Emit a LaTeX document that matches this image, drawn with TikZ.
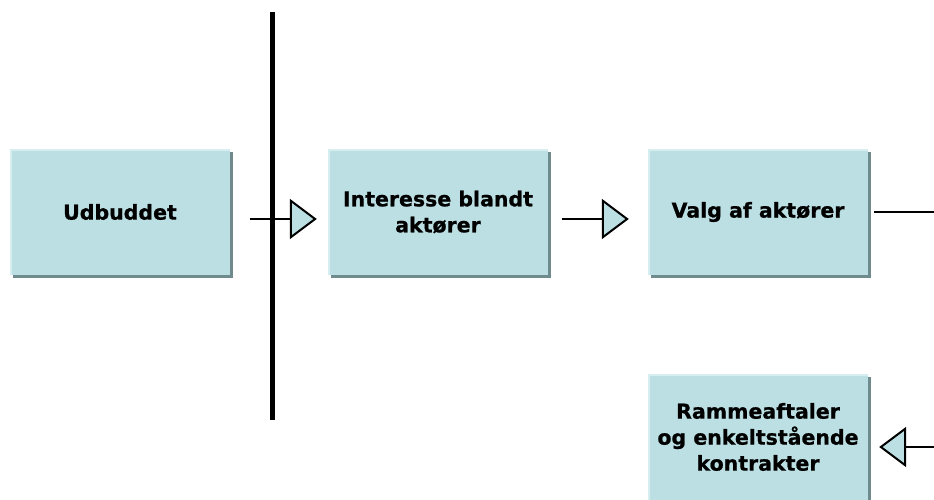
\documentclass[tikz,border=0pt]{standalone}
\usepackage{fontspec}
\setmainfont{DejaVu Sans}[BoldFeatures={FakeBold=0.8}]
\usepackage{xcolor}
\usetikzlibrary{arrows.meta,shadows}
\definecolor{boxfill}{HTML}{BBDFE3}
\definecolor{boxshade}{HTML}{6F8B8D}
\definecolor{boxlight}{HTML}{D6EEF0}
\tikzset{
  procbox/.style={fill=boxfill, minimum width=220pt, minimum height=126pt, inner sep=0pt, align=center, font=\bfseries\fontsize{20.5}{26}\selectfont, drop shadow={shadow xshift=3pt, shadow yshift=-3pt, fill=boxshade, opacity=1}},
  boxedge/.style={draw=boxlight, line width=2pt},
  procarrow/.style={-{Triangle[length=27pt,width=40pt,fill=boxfill,line width=2pt]}, line width=2pt, draw=black}
}

\begin{document}
\begin{tikzpicture}[x=1pt,y=-1pt]
\useasboundingbox (0,0) rectangle (934,500);
\node[procbox] (udbud) at (120,212) {Udbuddet};
\node[procbox] (interesse) at (438,212) {Interesse blandt\\aktører};
\node[procbox] (valg) at (758,212) {Valg af aktører};
\node[procbox] (ramme) at (758,437) {Rammeaftaler\\og enkeltstående\\kontrakter};
\foreach \b in {udbud,interesse,valg,ramme}{\draw[boxedge] ([xshift=1pt]\b.south west) |- ([yshift=-1pt]\b.north east);}
% skillelinje
\coordinate (bartop) at (272,12);
\coordinate (barbot) at (272,420);
\draw[line width=5pt] (bartop) -- (barbot);
\foreach \u/\v/\s/\e in {udbud/interesse/20/11,interesse/valg/14/19}{\draw[procarrow, shorten <=\s pt, shorten >=\e pt] ([yshift=-7pt]\u.east) -- ([yshift=-7pt]\v.west);}
\draw[procarrow, shorten <=6pt, shorten >=11pt] (valg.east) -- ++(120,0) |- ([yshift=-10pt]ramme.east);
\end{tikzpicture}
\end{document}
